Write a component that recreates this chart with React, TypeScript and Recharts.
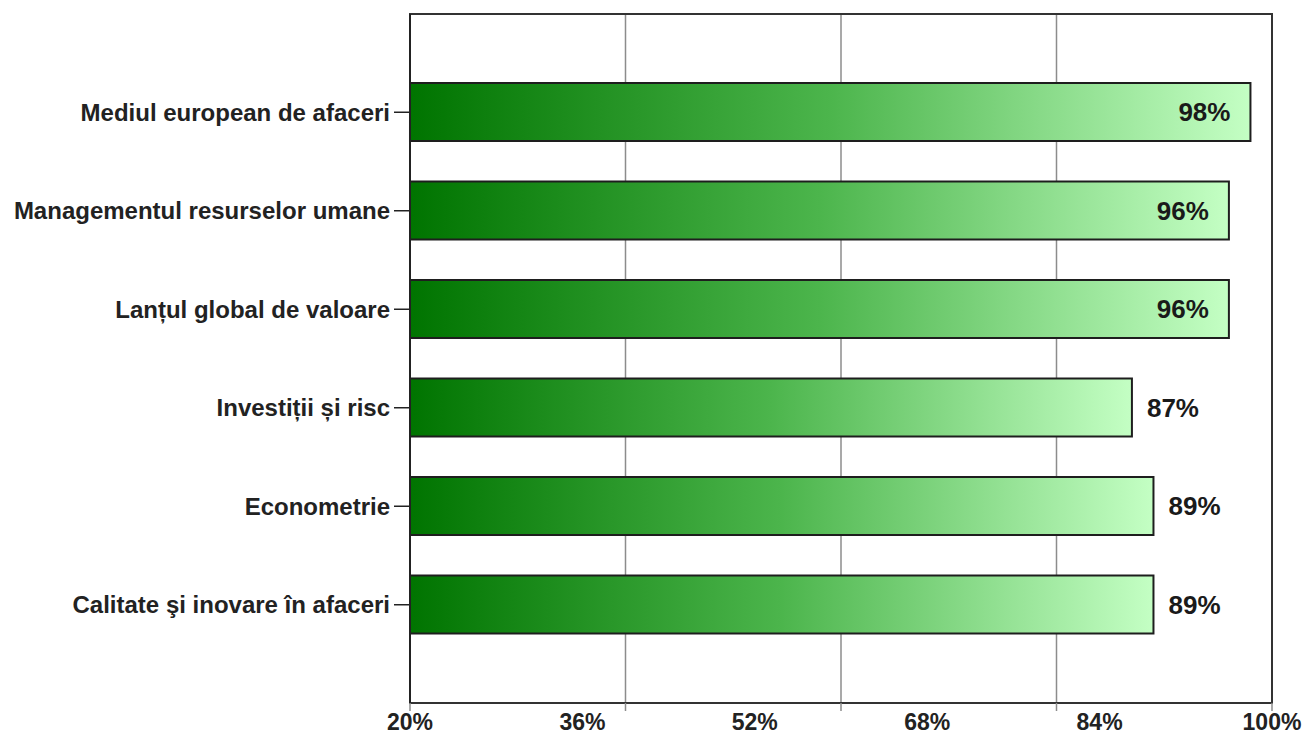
import {
  BarChart,
  Bar,
  XAxis,
  YAxis,
  CartesianGrid,
  LabelList,
  usePlotArea,
} from "recharts";

const categories = [
  "Mediul european de afaceri",
  "Managementul resurselor umane",
  "Lanțul global de valoare",
  "Investiții și risc",
  "Econometrie",
  "Calitate şi inovare în afaceri",
];

const scores = [98, 96, 96, 87, 89, 89];

// gridlines / tick marks sit on quarters, labels are printed at 16% steps
const gridTicks = [20, 40, 60, 80, 100];
const labelTicks = [20, 36, 52, 68, 84, 100];

const chartData = categories.map((name, i) => ({ name, value: scores[i] }));
const allTicks = Array.from(new Set([...gridTicks, ...labelTicks])).sort((a, b) => a - b);

const FONT = "'Liberation Sans', Arial, sans-serif";

// big values sit inside the bar end, the rest just outside it
const renderValueLabel = (props: any) => {
  const { x, y, width, height, value } = props;
  const inside = value >= 90;
  const tx = inside ? x + width - 20 : x + width + 15;
  return (
    <text
      x={tx}
      y={y + height / 2}
      dy="0.36em"
      textAnchor={inside ? "end" : "start"}
      fontFamily={FONT}
      fontWeight="bold"
      fontSize={26}
      fill="#1a1a1a"
    >
      {value}%
    </text>
  );
};

// one x axis: tick marks on grid values, text on label values
const renderXTick = (props: any) => {
  const { x, y, payload } = props;
  const v = payload.value;
  return (
    <g>
      {gridTicks.includes(v) && (
        <line x1={x} x2={x} y1={y} y2={y + 8} stroke="#8c8c8c" strokeWidth={1.5} />
      )}
      {labelTicks.includes(v) && (
        <text
          x={x}
          y={y + 11}
          dy="0.71em"
          textAnchor="middle"
          fontFamily={FONT}
          fontWeight="bold"
          fontSize={23}
          fill="#222"
        >
          {v}%
        </text>
      )}
    </g>
  );
};

// dark frame round the plot area
const PlotFrame = () => {
  const area = usePlotArea ? usePlotArea() : undefined;
  if (!area) return null;
  return (
    <rect
      x={area.x}
      y={area.y}
      width={area.width}
      height={area.height}
      fill="none"
      stroke="#333"
      strokeWidth={2}
    />
  );
};

const App = () => {
  return (
    <div style={{ position: "absolute", left: 0, top: 0, background: "#fff" }}>
      <BarChart
        width={1305}
        height={744}
        data={chartData}
        layout="vertical"
        margin={{ top: 14, right: 33, bottom: 0, left: 0 }}
        barSize={58}
      >
        <defs>
          <linearGradient id="greenFade" x1="0" y1="0" x2="1" y2="0">
            <stop offset="0%" stopColor="#007400" />
            <stop offset="50%" stopColor="#4cb54c" />
            <stop offset="100%" stopColor="#c4ffc4" />
          </linearGradient>
        </defs>
        <CartesianGrid
          horizontal={false}
          vertical
          verticalValues={gridTicks}
          stroke="#8c8c8c"
          strokeWidth={1.5}
        />
        <XAxis
          type="number"
          domain={[20, 100]}
          ticks={allTicks}
          height={41}
          tickSize={0}
          tickMargin={0}
          interval={0}
          axisLine={{ stroke: "#333", strokeWidth: 2 }}
          tickLine={false}
          tick={renderXTick}
        />
        <YAxis
          type="category"
          dataKey="name"
          width={410}
          tickSize={16}
          tickMargin={4}
          padding={{ top: 49, bottom: 49 }}
          axisLine={{ stroke: "#222", strokeWidth: 2 }}
          tickLine={{ stroke: "#222", strokeWidth: 1.5 }}
          tick={{ fontFamily: FONT, fontWeight: "bold", fontSize: 24, fill: "#222" }}
        />
        <Bar
          dataKey="value"
          fill="url(#greenFade)"
          stroke="#1e1e1e"
          strokeWidth={2}
          isAnimationActive={false}
        >
          <LabelList dataKey="value" content={renderValueLabel} />
        </Bar>
        <PlotFrame />
      </BarChart>
    </div>
  );
};

export default App;
